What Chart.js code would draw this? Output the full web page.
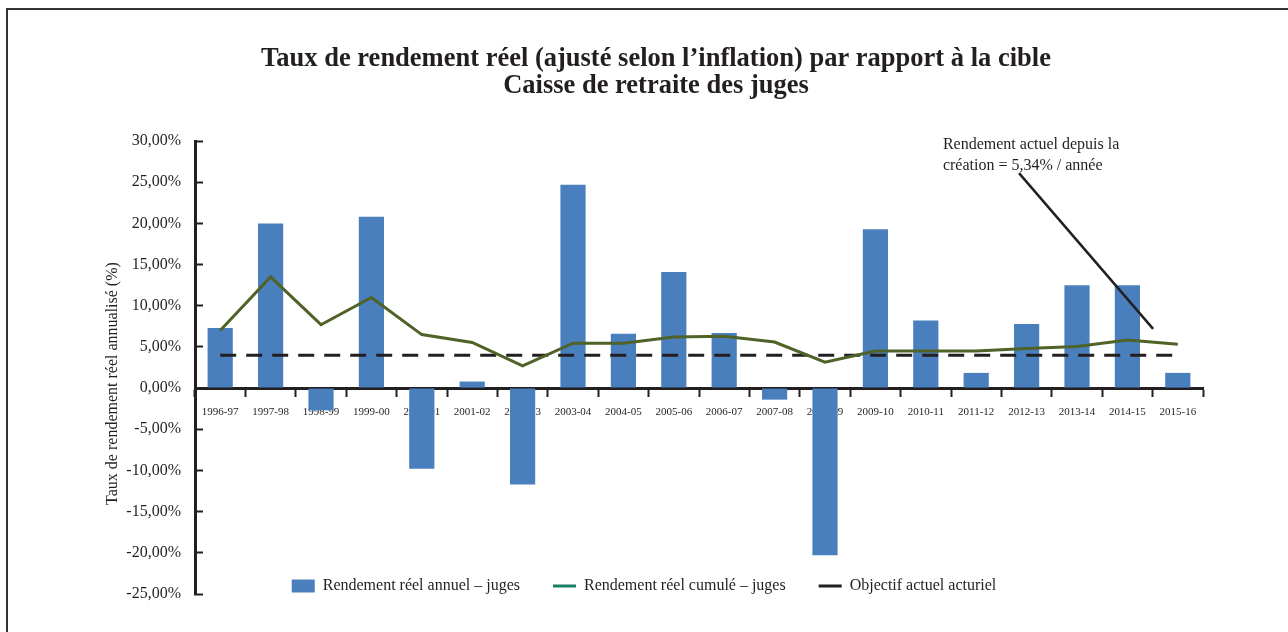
<!DOCTYPE html>
<html><head><meta charset="utf-8">
<script src="https://cdn.jsdelivr.net/npm/chart.js@4/dist/chart.umd.min.js"></script>
<style>
html,body{margin:0;padding:0;background:#fff;}
#wrap{position:relative;width:1288px;height:632px;overflow:hidden;}
#frame{position:absolute;left:6px;top:8px;width:1300px;height:640px;border-top:2px solid #333;border-left:2px solid #333;}
canvas{position:absolute;left:0;top:0;}
</style></head><body>
<div id="wrap"><div id="frame"></div><canvas id="c" width="1288" height="632"></canvas></div>
<script>
// ---- data ----
const categories = ['1996-97','1997-98','1998-99','1999-00','2000-01','2001-02','2002-03','2003-04','2004-05','2005-06',
                    '2006-07','2007-08','2008-09','2009-10','2010-11','2011-12','2012-13','2013-14','2014-15','2015-16'];
const annualReturns = [7.3, 20.0, -2.7, 20.8, -9.8, 0.8, -11.7, 24.7, 6.6, 14.1,
                       6.7, -1.4, -20.3, 19.3, 8.2, 1.85, 7.8, 12.5, 12.5, 1.85];
const cumulativeReturns = [7.0, 13.5, 7.7, 11.0, 6.5, 5.55, 2.7, 5.45, 5.45, 6.2,
                           6.3, 5.6, 3.15, 4.5, 4.5, 4.5, 4.8, 5.05, 5.85, 5.34];
const targetReturn = [4.0, 4.0, 4.0, 4.0, 4.0, 4.0, 4.0, 4.0, 4.0, 4.0,
                      4.0, 4.0, 4.0, 4.0, 4.0, 4.0, 4.0, 4.0, 4.0, 4.0];
const seriesNames = ['Rendement réel annuel – juges', 'Rendement réel cumulé – juges', 'Objectif actuel acturiel'];
const titleLines = ['Taux de rendement réel (ajusté selon l\u2019inflation) par rapport à la cible', 'Caisse de retraite des juges'];
const yAxisTitle = 'Taux de rendement réel annualisé (%)';
const yMin = -25, yMax = 30, yStep = 5;
const annotationLines = ['Rendement actuel depuis la', 'création = 5,34% / année'];
const annotationText = [14.34, 29.5];      // [category index, value]
const annotationFrom = [15.85, 26.1];
const annotationTo = [18.51, 7.2];

// ---- style ----
const INK = '#231f20';
const BAR = '#4a7fbe';
const GREEN = '#4f6228';
const LEGEND_GREEN = '#1a7e66';
const FONT = '"Liberation Serif", "Times New Roman", serif';

const overlay = {
  id: 'overlay',
  afterDraw(chart) {
    const {ctx, chartArea} = chart;
    const x = chart.scales.x, y = chart.scales.y;
    ctx.save();
    // annotation pointer
    ctx.strokeStyle = INK; ctx.lineWidth = 2.5;
    ctx.beginPath();
    ctx.moveTo(x.getPixelForValue(annotationFrom[0]), y.getPixelForValue(annotationFrom[1]));
    ctx.lineTo(x.getPixelForValue(annotationTo[0]), y.getPixelForValue(annotationTo[1]));
    ctx.stroke();
    // annotation text
    ctx.font = '16px ' + FONT; ctx.fillStyle = INK;
    ctx.textBaseline = 'middle'; ctx.textAlign = 'left';
    const tx = x.getPixelForValue(annotationText[0]), ty = y.getPixelForValue(annotationText[1]);
    annotationLines.forEach((l, i) => ctx.fillText(l, tx, ty + i * 21));
    // y axis title
    ctx.save();
    ctx.translate(chartArea.left - 82, (chartArea.top + chartArea.bottom) / 2 + 16);
    ctx.rotate(-Math.PI / 2);
    ctx.textAlign = 'center';
    ctx.fillText(yAxisTitle, 0, 0);
    ctx.restore();
    // legend
    ctx.font = '16px ' + FONT;
    const mw = 23, mg = 8, gap = 33;
    const widths = seriesNames.map(n => mw + mg + ctx.measureText(n).width);
    const total = widths.reduce((a, b) => a + b, 0) + gap * (widths.length - 1);
    let lx = chart.width / 2 - total / 2;
    const ly = chartArea.bottom - 8;
    const markerColors = [BAR, LEGEND_GREEN, INK];
    seriesNames.forEach((n, i) => {
      ctx.fillStyle = markerColors[i];
      if (i === 0) ctx.fillRect(lx, ly - 6.5, mw, 13);
      else ctx.fillRect(lx, ly - 1.5, mw, 3);
      ctx.fillStyle = INK;
      ctx.textAlign = 'left';
      ctx.fillText(n, lx + mw + mg, ly);
      lx += widths[i] + gap;
    });
    ctx.restore();
  }
};

new Chart(document.getElementById('c'), {
  type: 'bar',
  data: {
    labels: categories,
    datasets: [
      { type: 'line', label: seriesNames[1], data: cumulativeReturns, borderColor: GREEN, backgroundColor: GREEN,
        borderWidth: 3, pointRadius: 0, tension: 0, fill: false, order: 1 },
      { type: 'line', label: seriesNames[2], data: targetReturn, borderColor: INK, backgroundColor: INK,
        borderWidth: 3, borderDash: [16, 10], pointRadius: 0, fill: false, order: 2 },
      { type: 'bar', label: seriesNames[0], data: annualReturns, backgroundColor: BAR, borderWidth: 0,
        barPercentage: 0.5, categoryPercentage: 1.0, order: 3 }
    ]
  },
  options: {
    responsive: false,
    animation: false,
    devicePixelRatio: 1,
    layout: { padding: { left: 109, right: 85, top: 0, bottom: 38 } },
    plugins: {
      legend: { display: false },
      tooltip: { enabled: false },
      title: {
        display: true, text: titleLines, color: INK,
        font: { family: FONT, size: 26.5, weight: 'bold', lineHeight: 1.02 },
        padding: { top: 46, bottom: 41 }
      }
    },
    scales: {
      x: {
        position: { y: 0 },
        z: 1,
        offset: true,
        grid: { drawOnChartArea: false, offset: true, tickLength: 7, tickWidth: 2, tickColor: INK },
        border: { display: true, color: INK, width: 3 },
        ticks: { color: INK, font: { family: FONT, size: 11 }, padding: 10, autoSkip: false, maxRotation: 0 }
      },
      y: {
        min: yMin, max: yMax,
        afterFit(scale) { scale.width = 86; },
        grid: { drawOnChartArea: false, tickLength: -8, tickWidth: 2, tickColor: INK },
        border: { display: true, color: INK, width: 3 },
        ticks: { stepSize: yStep, color: INK, font: { family: FONT, size: 16 }, padding: 22,
          callback: v => v.toFixed(2).replace('.', ',') + '%' }
      }
    }
  },
  plugins: [overlay]
});
</script>
</body></html>
